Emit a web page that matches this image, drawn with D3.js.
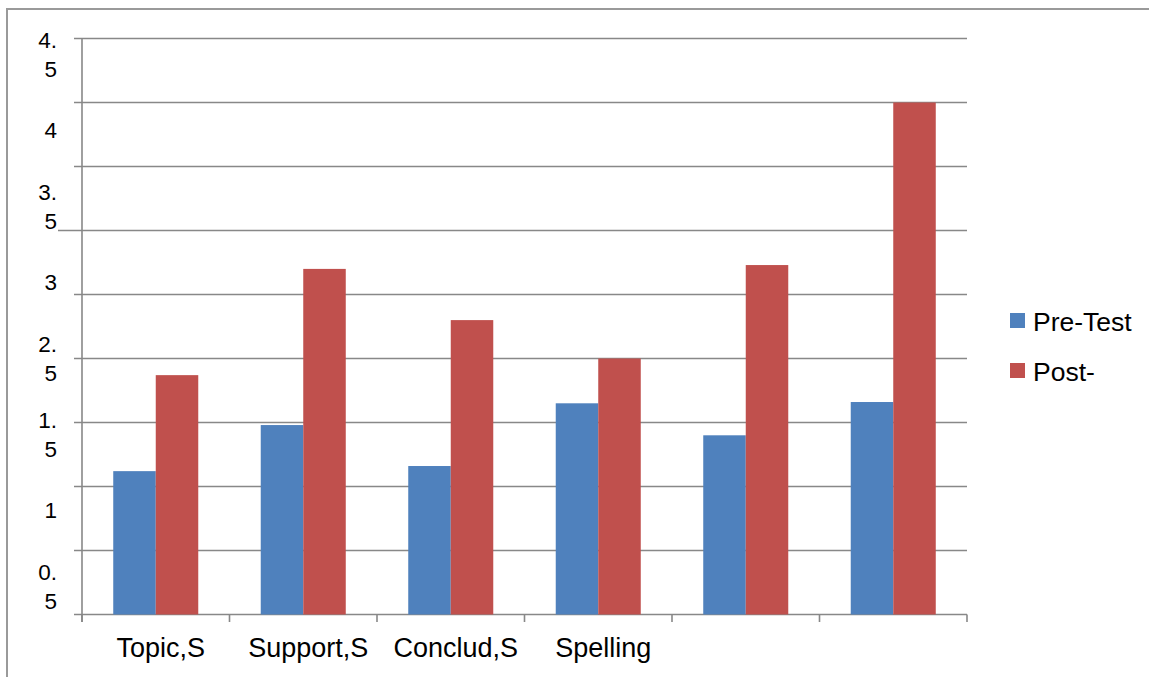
<!DOCTYPE html>
<html>
<head>
<meta charset="utf-8">
<script src="https://cdn.jsdelivr.net/npm/d3@7"></script>
<style>
  html, body { margin: 0; padding: 0; background: #fff; }
  svg { display: block; font-family: "Liberation Sans", Arial, sans-serif; }
</style>
</head>
<body>
<svg id="chart" width="1149" height="677"></svg>
<script>
const categories = ["Topic,S", "Support,S", "Conclud,S", "Spelling", "", ""];
const seriesNames = ["Pre-Test", "Post-"];
const preTest = [1.12, 1.48, 1.16, 1.65, 1.40, 1.66];
const postTest = [1.87, 2.70, 2.30, 2.00, 2.73, 4.00];
const gridValues = [0, 0.5, 1, 1.5, 2, 2.5, 3, 3.5, 4, 4.5];
const yTickLabels = ["4.5", "4", "3.5", "3", "2.5", "1.5", "1", "0.5"];
const colors = ["#4F81BD", "#C0504D"];

const svg = d3.select("#chart");
const W = 1149, H = 677;
const plot = { left: 82, right: 967, top: 38.5, bottom: 614.5 };

// outer chart border
svg.append("rect")
  .attr("x", 7).attr("y", 9)
  .attr("width", W + 20).attr("height", H + 20)
  .attr("fill", "#fff")
  .attr("stroke", "#9a9a9a").attr("stroke-width", 2);

const x = d3.scaleBand().domain(d3.range(categories.length))
  .range([plot.left, plot.right]).paddingInner(0).paddingOuter(0);
const y = d3.scaleLinear().domain([0, 4.5]).range([plot.bottom, plot.top]);
const xInner = d3.scaleBand().domain(d3.range(seriesNames.length))
  .range([0, x.bandwidth()]).paddingInner(0).paddingOuter(0.735);

// gridlines
svg.append("g").selectAll("line").data(gridValues).join("line")
  .attr("x1", d => d === 3 ? 58 : plot.left - 8)
  .attr("x2", plot.right)
  .attr("y1", d => y(d)).attr("y2", d => y(d))
  .attr("stroke", "#888").attr("stroke-width", 1.6);

// y axis line
svg.append("line")
  .attr("x1", plot.left).attr("x2", plot.left)
  .attr("y1", plot.top).attr("y2", plot.bottom + 7.5)
  .attr("stroke", "#888").attr("stroke-width", 1.6);

// category ticks
const tickXs = d3.range(categories.length + 1).map(i => i < categories.length ? x(i) : plot.right);
svg.append("g").selectAll("line").data(tickXs).join("line")
  .attr("x1", d => d).attr("x2", d => d)
  .attr("y1", plot.bottom).attr("y2", plot.bottom + 7.5)
  .attr("stroke", "#888").attr("stroke-width", 1.6);

// bars
const series = [preTest, postTest];
series.forEach((vals, s) => {
  svg.append("g").selectAll("rect").data(vals).join("rect")
    .attr("x", (d, i) => x(i) + xInner(s))
    .attr("width", xInner.bandwidth())
    .attr("y", d => y(d))
    .attr("height", d => y(0) - y(d))
    .attr("fill", colors[s]);
});

// x labels
svg.append("g").selectAll("text").data(categories).join("text")
  .attr("x", (d, i) => x(i) + x.bandwidth() / 2 + 5)
  .attr("y", 657)
  .attr("text-anchor", "middle")
  .attr("font-size", 27)
  .attr("fill", "#000")
  .text(d => d);

// y labels (wrapped, as in the original)
const yl = d3.scalePoint().domain(yTickLabels).range([54, 586]);
const lineGap = 29;
const yg = svg.append("g");
yTickLabels.forEach(lbl => {
  const parts = lbl.includes(".") ? [lbl.split(".")[0] + ".", lbl.split(".")[1]] : [lbl];
  const cy = yl(lbl);
  const n = parts.length;
  parts.forEach((p, k) => {
    yg.append("text")
      .attr("x", 57)
      .attr("y", cy + (k - (n - 1) / 2) * lineGap + 8)
      .attr("text-anchor", "end")
      .attr("font-size", 22.5)
      .attr("fill", "#000")
      .text(p);
  });
});

// legend
const lg = svg.append("g");
seriesNames.forEach((name, i) => {
  const yy = 313 + i * 50;
  lg.append("rect").attr("x", 1010).attr("y", yy).attr("width", 15).attr("height", 15)
    .attr("fill", colors[i]);
  lg.append("text").attr("x", 1033).attr("y", yy + 18)
    .attr("font-size", 26.5).attr("fill", "#000").text(name);
});
</script>
</body>
</html>
